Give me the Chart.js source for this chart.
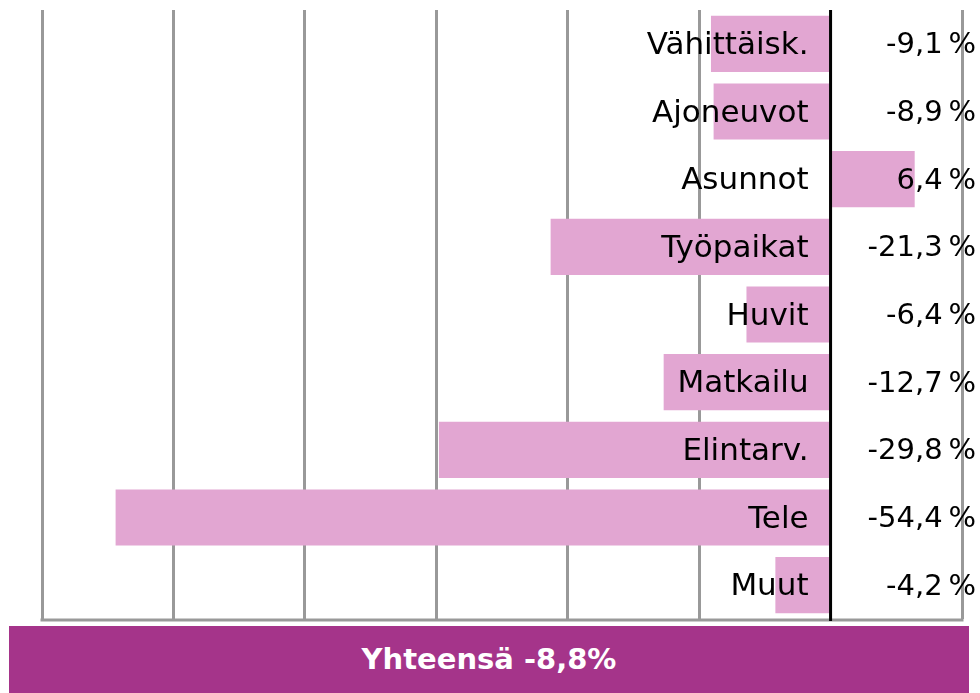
<!DOCTYPE html>
<html>
<head>
<meta charset="utf-8">
<script src="https://cdn.jsdelivr.net/npm/chart.js@4"></script>
<style>
  html, body { margin: 0; padding: 0; background: #fff; }
  #wrap { position: relative; width: 980px; height: 693px; }
  #total {
    position: absolute; left: 9px; top: 626px; width: 960px; height: 67px;
    background: #a5348a; color: #fff; font: bold 29px "DejaVu Sans", sans-serif;
    text-align: center; line-height: 67px;
  }
</style>
</head>
<body>
<div id="wrap">
  <canvas id="changeChart" width="980" height="693"></canvas>
  <div id="total">Yhteensä -8,8%</div>
</div>
<script>
// Toimialojen muutos
const categories = ['Vähittäisk.', 'Ajoneuvot', 'Asunnot', 'Työpaikat', 'Huvit', 'Matkailu', 'Elintarv.', 'Tele', 'Muut'];
const changes = [-9.1, -8.9, 6.4, -21.3, -6.4, -12.7, -29.8, -54.4, -4.2];
const valueLabels = ['-9,1\u2009%', '-8,9\u2009%', '6,4\u2009%', '-21,3\u2009%', '-6,4\u2009%', '-12,7\u2009%', '-29,8\u2009%', '-54,4\u2009%', '-4,2\u2009%'];

const barLabels = {
  id: 'barLabels',
  beforeDatasetsDraw(chart) {
    // bottom frame line
    const ctx = chart.ctx;
    const a = chart.chartArea;
    ctx.save();
    ctx.strokeStyle = '#999';
    ctx.lineWidth = 3;
    ctx.beginPath();
    ctx.moveTo(a.left - 1.5, a.bottom + 1);
    ctx.lineTo(a.right + 1.5, a.bottom + 1);
    ctx.stroke();
    ctx.restore();
  },
  afterDatasetsDraw(chart) {
    const ctx = chart.ctx;
    const a = chart.chartArea;
    const meta = chart.getDatasetMeta(0);
    const zero = chart.scales.x.getPixelForValue(0);
    ctx.save();
    // zero line on top of bars
    ctx.strokeStyle = '#000';
    ctx.lineWidth = 3;
    ctx.beginPath();
    ctx.moveTo(zero, a.top);
    ctx.lineTo(zero, a.bottom + 2);
    ctx.stroke();
    ctx.fillStyle = '#000';
    ctx.textBaseline = 'middle';
    ctx.textAlign = 'right';
    for (let i = 0; i < meta.data.length; i++) {
      const y = meta.data[i].y + 2;
      ctx.font = '31px "DejaVu Sans", sans-serif';
      ctx.fillText(categories[i], zero - 22, y);
      ctx.font = '29px "DejaVu Sans", sans-serif';
      ctx.fillText(valueLabels[i], 976, y);
    }
    ctx.restore();
  }
};

new Chart(document.getElementById('changeChart').getContext('2d'), {
  type: 'bar',
  data: {
    labels: categories,
    datasets: [{
      data: changes,
      backgroundColor: '#e2a6d2',
      borderWidth: 0,
      barPercentage: 0.83,
      categoryPercentage: 1
    }]
  },
  plugins: [barLabels],
  options: {
    indexAxis: 'y',
    responsive: false,
    animation: false,
    layout: { padding: { left: 42, right: 18, top: 10, bottom: 74 } },
    plugins: {
      legend: { display: false },
      tooltip: { enabled: false }
    },
    scales: {
      x: {
        min: -60,
        max: 10,
        ticks: { display: false, stepSize: 10 },
        grid: {
          color: '#999',
          lineWidth: 3,
          drawTicks: false
        },
        border: { display: false }
      },
      y: {
        display: false
      }
    }
  }
});
</script>
</body>
</html>
